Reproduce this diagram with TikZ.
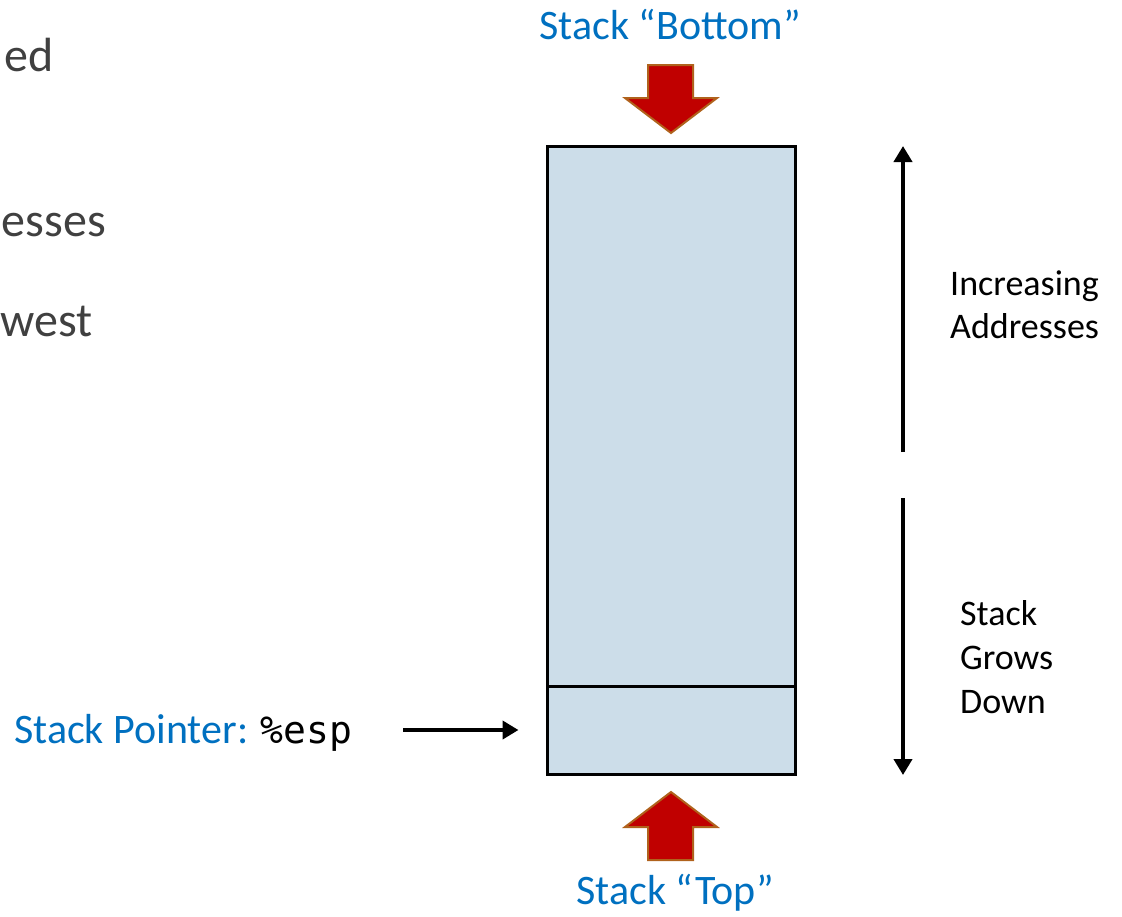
\documentclass[tikz,border=0pt]{standalone}
\usepackage{fontspec}
\setmainfont{Carlito}
\newfontfamily\codefont{DejaVu Sans Mono}
\usetikzlibrary{arrows.meta}
\definecolor{stackfill}{RGB}{204,221,233}
\definecolor{labelblue}{RGB}{0,112,192}
\definecolor{bodygray}{RGB}{64,64,64}
\definecolor{blockred}{RGB}{192,0,0}
\definecolor{blockedge}{RGB}{176,98,28}
\begin{document}
\begin{tikzpicture}[x=1pt,y=-1pt,
  region/.style={draw=black,line width=3pt,fill=stackfill,inner sep=0pt,minimum width=248pt},
  bluelabel/.style={text=labelblue,inner sep=0pt,font=\fontsize{42}{50}\selectfont},
  sidelabel/.style={inner sep=0pt,anchor=base west,font=\fontsize{36}{44}\selectfont},
  bodytext/.style={text=bodygray,inner sep=0pt,anchor=base east,font=\fontsize{48}{58}\selectfont},
  blockarrow/.style={fill=blockred,draw=blockedge,line width=2pt,line join=miter},
  thinarrow/.style={line width=4pt,-{Triangle[length=16pt,width=18pt]}}]
\useasboundingbox (0,0) rectangle (1122,916);

% ends of the running text on the left
\node[bodytext] (t1) at (54,71) {ed};
\node[bodytext] (t2) at (106,236) {esses};
\node[bodytext] (t3) at (93,336) {west};

% the stack memory region and the slot at its top
\node[region,minimum height=540pt] (body) at (671,416) {};
\node[region,minimum height=88pt] (slot) at (671,730) {};

% labels at both ends
\node[bluelabel,anchor=base] (bottomlbl) at (670,39) {Stack “Bottom”};
\node[bluelabel,anchor=base] (toplbl) at (675,904) {Stack “Top”};

% block arrows pointing at the ends of the region
\draw[blockarrow] (648,65) -- (693,65) -- (693,98) -- (717,98) -- (671,133)
  -- (625,98) -- (648,98) -- cycle;
\draw[blockarrow] (648,860) -- (693,860) -- (693,827) -- (717,827) -- (671,792)
  -- (625,827) -- (648,827) -- cycle;

% stack pointer
\node[bluelabel,anchor=base west] (splbl) at (14,743) {Stack Pointer: {\color{black}\codefont\fontsize{38}{46}\selectfont\%esp}};
\coordinate (spstart) at (403,730);
\draw[thinarrow] (spstart) -- ([xshift=-27pt]slot.west);

% direction arrows on the right
\coordinate (upbase) at (903,452);
\coordinate (uptip) at (903,146);
\coordinate (downbase) at (903,498);
\coordinate (downtip) at (903,775);
\draw[thinarrow] (upbase) -- (uptip);
\draw[thinarrow] (downbase) -- (downtip);
\node[sidelabel] (inc1) at (950,295) {Increasing};
\node[sidelabel] (inc2) at (950,338) {Addresses};
\node[sidelabel] (grow1) at (960,625) {Stack};
\node[sidelabel] (grow2) at (960,669) {Grows};
\node[sidelabel] (grow3) at (960,713) {Down};
\end{tikzpicture}
\end{document}
